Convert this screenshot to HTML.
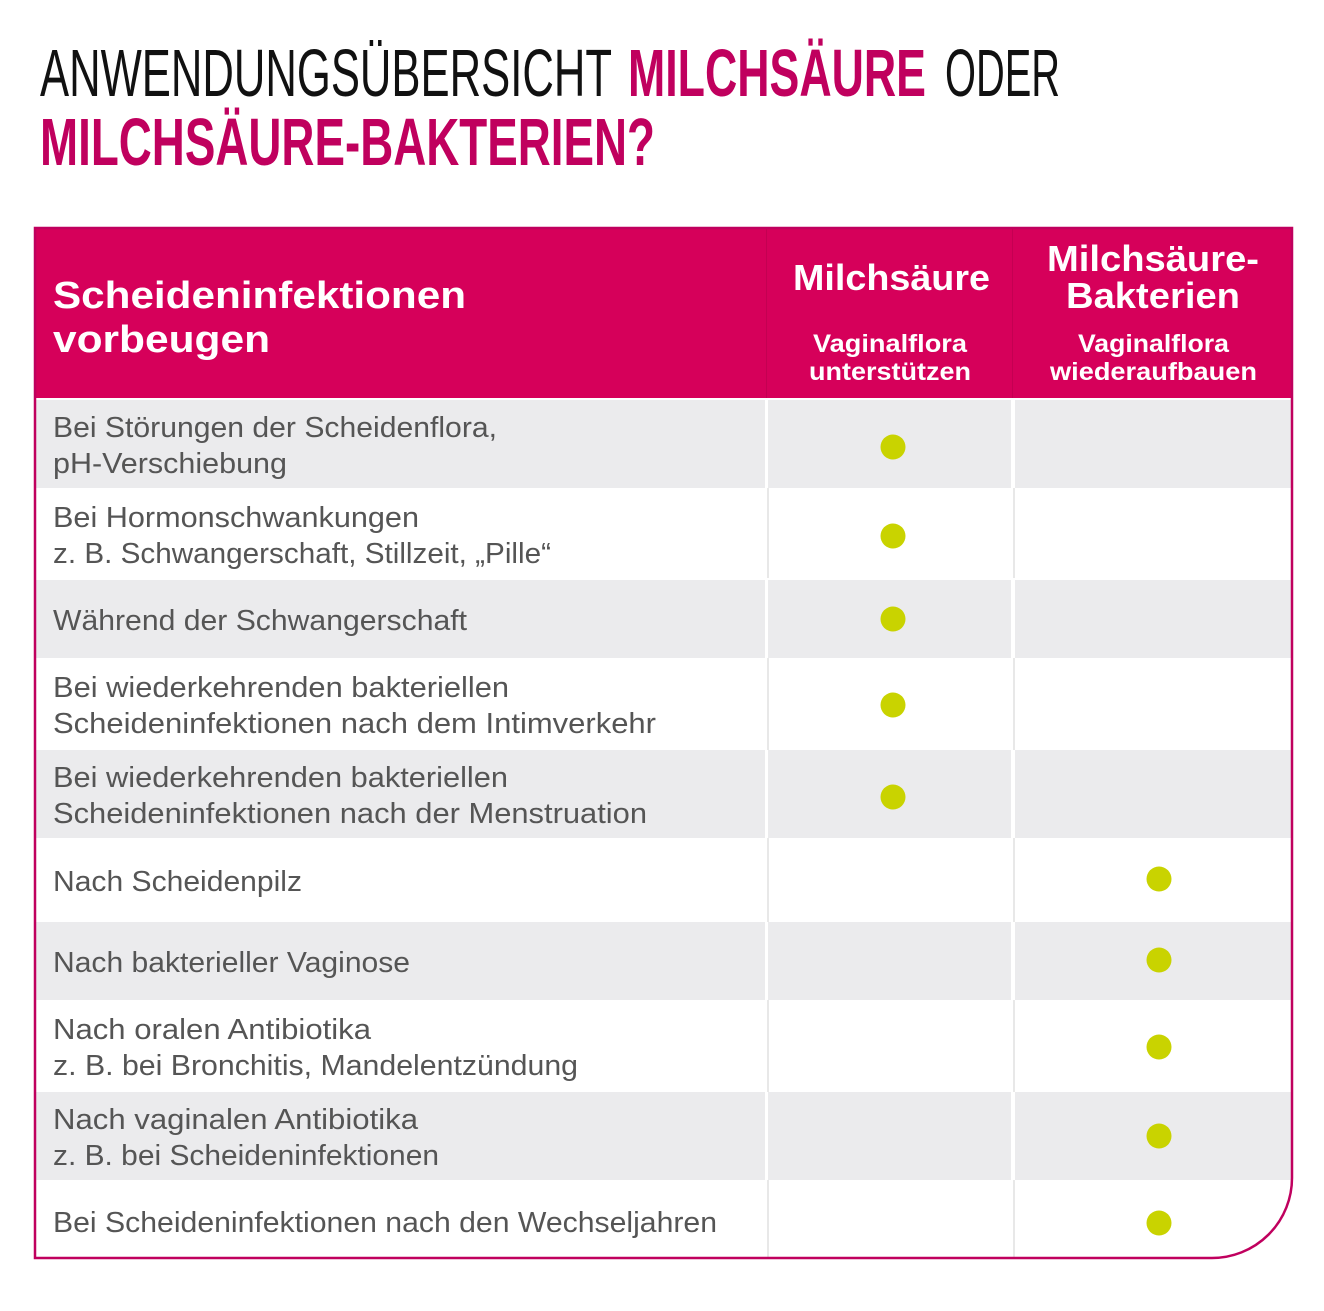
<!DOCTYPE html>
<html><head><meta charset="utf-8"><style>
html,body{margin:0;padding:0;background:#fff;}
svg{display:block;}
</style></head><body>
<svg width="1324" height="1311" viewBox="0 0 1324 1311" xmlns="http://www.w3.org/2000/svg">
<defs>
<clipPath id="c"><path d="M36 229 H1291 V1178 A80 80 0 0 1 1211 1257 H36 Z"/></clipPath>
</defs>
<!-- Title -->
<g font-family="Liberation Sans, sans-serif" font-size="67">
<text x="40" y="96" fill="#111" textLength="572" lengthAdjust="spacingAndGlyphs">ANWENDUNGSÜBERSICHT</text>
<text x="628" y="96" font-weight="bold" fill="#c0005e" textLength="298" lengthAdjust="spacingAndGlyphs">MILCHSÄURE</text>
<text x="945" y="96" fill="#111" textLength="115" lengthAdjust="spacingAndGlyphs">ODER</text>
<text x="40" y="165" font-weight="bold" fill="#c0005e" textLength="615" lengthAdjust="spacingAndGlyphs">MILCHSÄURE-BAKTERIEN?</text>
</g>

<g clip-path="url(#c)">
<rect x="36" y="229" width="1256" height="1030" fill="#fff"/>
<rect x="36" y="229" width="1256" height="169" fill="#d6005a"/>
<rect x="766" y="229" width="1" height="169" fill="#c40052"/>
<rect x="1012" y="229" width="1" height="169" fill="#c40052"/>
<g fill="#ebebed">
<rect x="36" y="400" width="1256" height="88"/>
<rect x="36" y="580" width="1256" height="78"/>
<rect x="36" y="750" width="1256" height="88"/>
<rect x="36" y="922" width="1256" height="78"/>
<rect x="36" y="1092" width="1256" height="88"/>
</g>
<g fill="#fff">
<rect x="36" y="398" width="1256" height="2"/>
<rect x="765" y="398" width="3" height="862"/>
<rect x="1011" y="398" width="4" height="862"/>
</g>
<g fill="#e8e8e8">
<rect x="767" y="488" width="2" height="90"/><rect x="767" y="658" width="2" height="92"/><rect x="767" y="838" width="2" height="84"/><rect x="767" y="1000" width="2" height="92"/><rect x="767" y="1180" width="2" height="80"/>
<rect x="1013" y="488" width="2" height="90"/><rect x="1013" y="658" width="2" height="92"/><rect x="1013" y="838" width="2" height="84"/><rect x="1013" y="1000" width="2" height="92"/><rect x="1013" y="1180" width="2" height="80"/>
</g>
</g>
<path d="M35 228 H1292 V1178 A80 80 0 0 1 1212 1258 H35 Z" fill="none" stroke="#c0005e" stroke-width="2.5"/>

<!-- header text -->
<g font-family="Liberation Sans, sans-serif" font-weight="bold" fill="#fff">
<text x="53" y="308" font-size="38" textLength="413" lengthAdjust="spacingAndGlyphs">Scheideninfektionen</text>
<text x="53" y="352" font-size="38" textLength="217" lengthAdjust="spacingAndGlyphs">vorbeugen</text>
<text x="793" y="290" font-size="36" textLength="197" lengthAdjust="spacingAndGlyphs">Milchsäure</text>
<text x="813" y="352" font-size="25" textLength="154" lengthAdjust="spacingAndGlyphs">Vaginalflora</text>
<text x="809" y="380" font-size="25" textLength="162" lengthAdjust="spacingAndGlyphs">unterstützen</text>
<text x="1047" y="271" font-size="36" textLength="212" lengthAdjust="spacingAndGlyphs">Milchsäure-</text>
<text x="1066" y="308" font-size="36" textLength="174" lengthAdjust="spacingAndGlyphs">Bakterien</text>
<text x="1078" y="352" font-size="25" textLength="151" lengthAdjust="spacingAndGlyphs">Vaginalflora</text>
<text x="1050" y="380" font-size="25" textLength="207" lengthAdjust="spacingAndGlyphs">wiederaufbauen</text>
</g>

<!-- body text -->
<g font-family="Liberation Sans, sans-serif" font-size="29" fill="#555">
<text x="53" y="437" textLength="444" lengthAdjust="spacingAndGlyphs">Bei Störungen der Scheidenflora,</text>
<text x="53" y="473" textLength="234" lengthAdjust="spacingAndGlyphs">pH-Verschiebung</text>
<text x="53" y="527" textLength="366" lengthAdjust="spacingAndGlyphs">Bei Hormonschwankungen</text>
<text x="53" y="563" textLength="498" lengthAdjust="spacingAndGlyphs">z. B. Schwangerschaft, Stillzeit, „Pille“</text>
<text x="53" y="630" textLength="414" lengthAdjust="spacingAndGlyphs">Während der Schwangerschaft</text>
<text x="53" y="697" textLength="456" lengthAdjust="spacingAndGlyphs">Bei wiederkehrenden bakteriellen</text>
<text x="53" y="733" textLength="603" lengthAdjust="spacingAndGlyphs">Scheideninfektionen nach dem Intimverkehr</text>
<text x="53" y="787" textLength="455" lengthAdjust="spacingAndGlyphs">Bei wiederkehrenden bakteriellen</text>
<text x="53" y="823" textLength="594" lengthAdjust="spacingAndGlyphs">Scheideninfektionen nach der Menstruation</text>
<text x="53" y="891" textLength="249" lengthAdjust="spacingAndGlyphs">Nach Scheidenpilz</text>
<text x="53" y="972" textLength="357" lengthAdjust="spacingAndGlyphs">Nach bakterieller Vaginose</text>
<text x="53" y="1039" textLength="318" lengthAdjust="spacingAndGlyphs">Nach oralen Antibiotika</text>
<text x="53" y="1075" textLength="525" lengthAdjust="spacingAndGlyphs">z. B. bei Bronchitis, Mandelentzündung</text>
<text x="53" y="1129" textLength="365" lengthAdjust="spacingAndGlyphs">Nach vaginalen Antibiotika</text>
<text x="53" y="1165" textLength="386" lengthAdjust="spacingAndGlyphs">z. B. bei Scheideninfektionen</text>
<text x="53" y="1232" textLength="664" lengthAdjust="spacingAndGlyphs">Bei Scheideninfektionen nach den Wechseljahren</text>
</g>

<!-- dots -->
<g fill="#c9d300">
<circle cx="893" cy="447" r="12.5"/>
<circle cx="893" cy="536" r="12.5"/>
<circle cx="893" cy="619" r="12.5"/>
<circle cx="893" cy="705" r="12.5"/>
<circle cx="893" cy="797" r="12.5"/>
<circle cx="1159" cy="879" r="12.5"/>
<circle cx="1159" cy="960" r="12.5"/>
<circle cx="1159" cy="1047" r="12.5"/>
<circle cx="1159" cy="1136" r="12.5"/>
<circle cx="1159" cy="1223" r="12.5"/>
</g>
</svg>
</body></html>
